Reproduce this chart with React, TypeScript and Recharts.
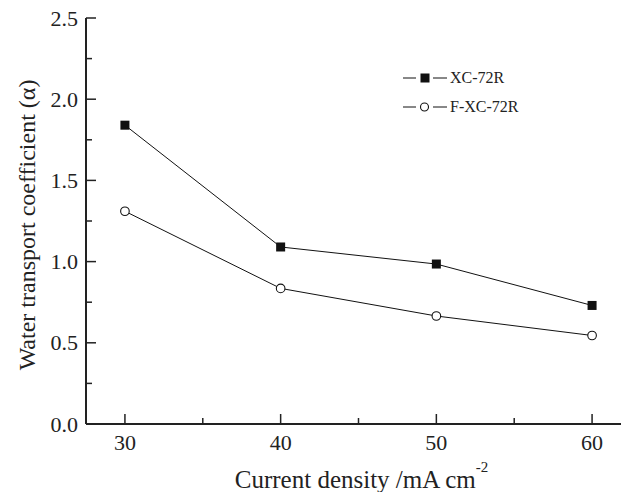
import { Line, LineChart, XAxis, YAxis } from "recharts";

const currentDensity = [30, 40, 50, 60];
const xc72r = [1.84, 1.09, 0.985, 0.73];
const fxc72r = [1.31, 0.835, 0.665, 0.545];

const xTicks = [30, 35, 40, 45, 50, 55, 60];
const yTicks = [0, 0.25, 0.5, 0.75, 1, 1.25, 1.5, 1.75, 2, 2.25, 2.5];

const seriesNames = ["XC-72R", "F-XC-72R"];

const data = currentDensity.map((x, i) => ({ x, a: xc72r[i], b: fxc72r[i] }));

const FONT = '"Liberation Serif", "Times New Roman", serif';
const INK = "#222";

function SquareDot({ cx, cy }: any) {
  return <rect x={cx - 4.5} y={cy - 4.5} width={9} height={9} fill="#111" />;
}

function CircleDot({ cx, cy }: any) {
  return <circle cx={cx} cy={cy} r={4.3} fill="#fff" stroke="#111" strokeWidth={1.1} />;
}

function YTick({ x, y, payload }: any) {
  const major = Math.abs(payload.value * 2 - Math.round(payload.value * 2)) < 1e-9;
  return (
    <g>
      <line x1={x} x2={x + (major ? 10 : 6)} y1={y} y2={y} stroke={INK} strokeWidth={1.5} />
      {major && (
        <text x={x - 8} y={y} textAnchor="end" dominantBaseline="central" fontSize={22} fontFamily={FONT} fill="#222">
          {payload.value.toFixed(1)}
        </text>
      )}
    </g>
  );
}

function XTick({ x, y, payload }: any) {
  const major = payload.value % 10 === 0;
  return (
    <g>
      <line x1={x} x2={x} y1={y} y2={y - (major ? 10 : 6)} stroke={INK} strokeWidth={1.5} />
      {major && (
        <text x={x} y={y + 18} textAnchor="middle" dominantBaseline="central" fontSize={22} fontFamily={FONT} fill="#222">
          {payload.value}
        </text>
      )}
    </g>
  );
}

function TopTick({ x, y }: any) {
  return <line x1={x} x2={x} y1={y} y2={y + 3} stroke={INK} strokeWidth={1.5} />;
}

function YLabel({ viewBox }: any) {
  const cx = viewBox.x + 27;
  const cy = viewBox.y + viewBox.height / 2 + 4;
  return (
    <text x={cx} y={cy} transform={`rotate(-90 ${cx} ${cy})`} textAnchor="middle" dominantBaseline="central" fontSize={24} fontFamily={FONT} fill="#222">
      Water transport coefficient (α)
    </text>
  );
}

function XLabel({ viewBox }: any) {
  const cx = viewBox.x + viewBox.width / 2 + 3;
  const cy = viewBox.y + 55;
  return (
    <text x={cx} y={cy} textAnchor="middle" dominantBaseline="central" fontSize={25} fontFamily={FONT} fill="#222">
      Current density /mA cm
      <tspan dy={-12} fontSize={15}>-2</tspan>
    </text>
  );
}

function LegendBox() {
  return (
    <div style={{ position: "absolute", left: 403, top: 68, fontFamily: FONT, fontSize: 16, color: "#222" }}>
      {seriesNames.map((name, i) => (
        <div key={name} style={{ display: "flex", alignItems: "center", height: 20, marginBottom: 9 }}>
          <svg width={46} height={20}>
            <line x1={0} x2={13} y1={10} y2={10} stroke="#111" strokeWidth={1} />
            <line x1={30} x2={44} y1={10} y2={10} stroke="#111" strokeWidth={1} />
            {i === 0 ? (
              <rect x={17.5} y={5.5} width={9} height={9} fill="#111" />
            ) : (
              <circle cx={21.5} cy={10} r={4} fill="#fff" stroke="#111" strokeWidth={1.1} />
            )}
          </svg>
          <span style={{ marginLeft: 1 }}>{name}</span>
        </div>
      ))}
    </div>
  );
}

export default function App() {
  return (
    <div style={{ position: "absolute", left: 0, top: 0, width: 621, height: 492, overflow: "hidden", background: "#fff" }}>
      <LineChart width={640} height={492} data={data} margin={{ top: 18, right: 9, bottom: 0, left: 0 }}>
        <XAxis
          dataKey="x"
          type="number"
          domain={[27.5, 62.5]}
          ticks={xTicks}
          allowDataOverflow
          height={68}
          tickSize={0}
          tickMargin={0}
          tickLine={false}
          tick={<XTick />}
          axisLine={{ stroke: INK, strokeWidth: 2 }}
          label={<XLabel />}
          interval={0}
        />
        <XAxis
          xAxisId="top"
          orientation="top"
          dataKey="x"
          type="number"
          domain={[27.5, 62.5]}
          ticks={xTicks}
          allowDataOverflow
          height={0}
          tickSize={0}
          tickMargin={0}
          tickLine={false}
          tick={<TopTick />}
          axisLine={{ stroke: INK, strokeWidth: 2 }}
          interval={0}
        />
        <YAxis
          type="number"
          domain={[0, 2.5]}
          ticks={yTicks}
          width={86}
          tickSize={0}
          tickMargin={0}
          tickLine={false}
          tick={<YTick />}
          axisLine={{ stroke: INK, strokeWidth: 2 }}
          label={<YLabel />}
          interval={0}
        />
        <Line dataKey="a" name={seriesNames[0]} stroke="#111" strokeWidth={1} dot={<SquareDot />} isAnimationActive={false} />
        <Line dataKey="b" name={seriesNames[1]} stroke="#111" strokeWidth={1} dot={<CircleDot />} isAnimationActive={false} />
      </LineChart>
      <LegendBox />
    </div>
  );
}
